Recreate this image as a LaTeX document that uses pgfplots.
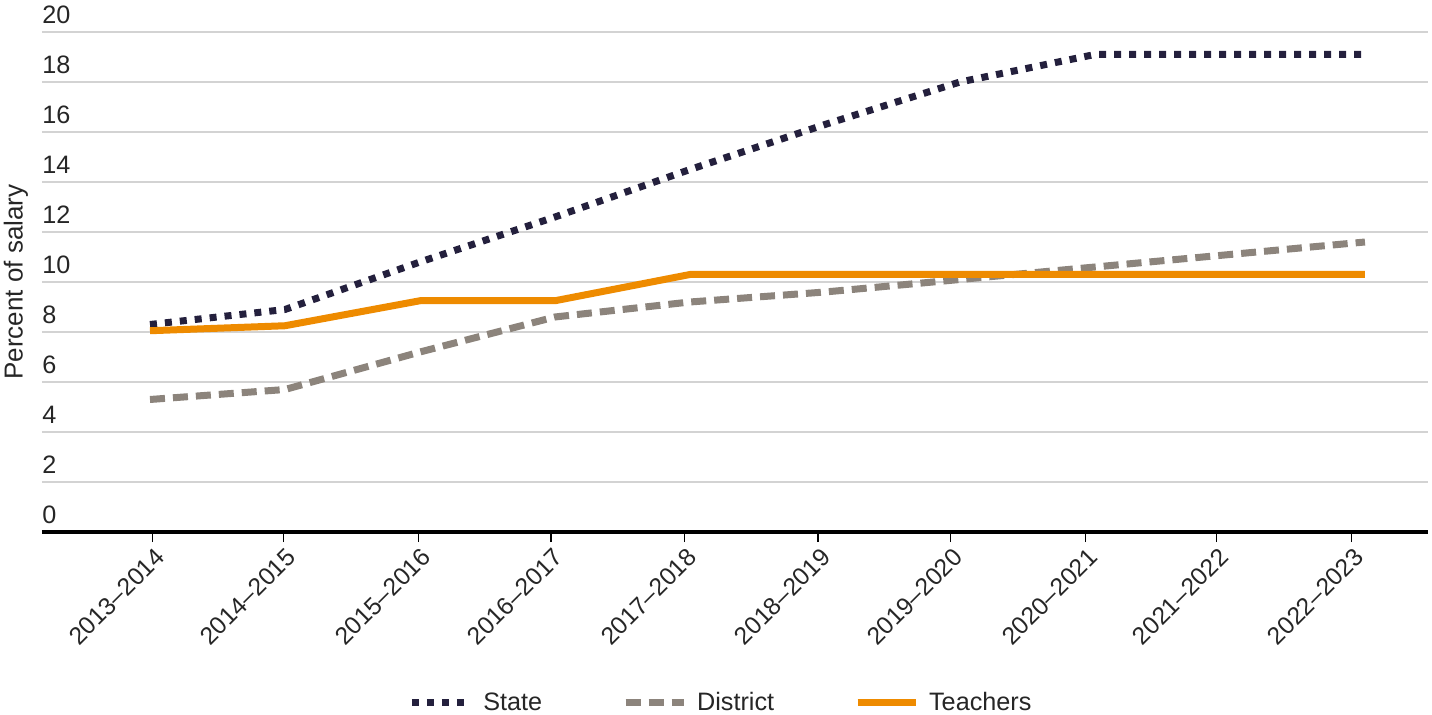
\documentclass[border=0pt]{standalone}
\usepackage{fontspec}
\setmainfont{Liberation Sans}
\usepackage{pgfplots}
\pgfplotsset{compat=1.18}
\definecolor{stateC}{HTML}{24203D}
\definecolor{distC}{HTML}{8C847C}
\definecolor{teachC}{HTML}{EE8B00}
\definecolor{gridC}{HTML}{D3D3D3}
\begin{document}
\begin{tikzpicture}
\begin{axis}[
  scale only axis, width=693pt, height=250pt,
  xmin=-0.8, xmax=9.467, ymin=0, ymax=20,
  axis x line*=bottom, axis y line*=left,
  x axis line style={-, black, line width=2pt},
  y axis line style={draw=none},
  ytick={0,2,...,20},
  ymajorgrids, major grid style={gridC, line width=1pt},
  ytick style={draw=none},
  xtick={0.02,0.99,1.99,2.97,3.96,4.95,5.93,6.93,7.90,8.90},
  xticklabels={2013--2014,2014--2015,2015--2016,2016--2017,2017--2018,2018--2019,2019--2020,2020--2021,2021--2022,2022--2023},
  xtick style={black, line width=0.8pt},
  tick align=outside, major tick length=5pt,
  xticklabel style={rotate=45, anchor=north east, font=\fontsize{12.3}{14}\selectfont, inner sep=1pt, yshift=-1pt, color=black!85},
  yticklabel style={anchor=south west, inner sep=0pt, font=\fontsize{12.6}{14}\selectfont, color=black!85, xshift=5pt, yshift=4pt},
  /pgf/number format/assume math mode=true,
  ylabel={Percent of salary},
  ylabel style={at={(rel axis cs:-0.0188,0.5)}, anchor=center, font=\fontsize{13}{15}\selectfont, color=black!85},
  legend style={at={(rel axis cs:0.4905,-0.342)}, anchor=center, draw=none, legend columns=3,
    font=\fontsize{12.6}{14}\selectfont, text=black!85,
    /tikz/every odd column/.append style={column sep=3pt},
    /tikz/every even column/.append style={column sep=38pt}},
  legend image code/.code={\draw[#1] (0pt,0pt) -- (29pt,0pt);},
]
\addplot[stateC, line width=3.5pt, dash pattern=on 3.5pt off 4pt] coordinates {
 (0,8.3) (1,8.9) (2,10.8) (3,12.6) (4,14.5) (5,16.3) (6,18.0) (7,19.1) (8,19.1) (9,19.1)};
\addlegendentry{State}
\addplot[distC, line width=3.5pt, dash pattern=on 7.5pt off 4pt] coordinates {
 (0,5.3) (1,5.7) (2,7.2) (3,8.6) (4,9.2) (5,9.6) (6,10.1) (7,10.6) (8,11.1) (9,11.6)};
\addlegendentry{District}
\addplot[teachC, line width=3.5pt] coordinates {
 (0,8.05) (1,8.25) (2,9.25) (3,9.25) (4,10.3) (5,10.3) (6,10.3) (7,10.3) (8,10.3) (9,10.3)};
\addlegendentry{Teachers}
\coordinate (ll) at (rel axis cs:0,0);
\coordinate (ur) at (rel axis cs:1,1);
\end{axis}
\pgfresetboundingbox
\path ([shift={(-21pt,-91.5pt)}]ll) rectangle ([shift={(2pt,16pt)}]ur);
\end{tikzpicture}
\end{document}
